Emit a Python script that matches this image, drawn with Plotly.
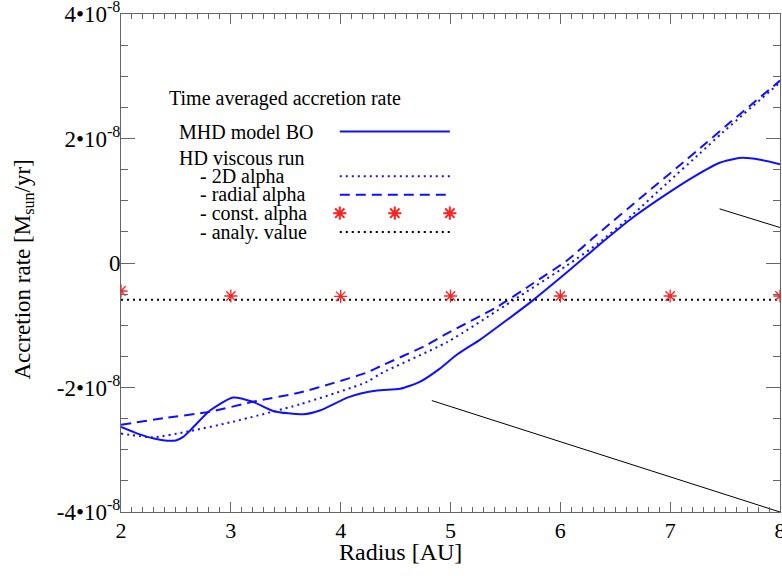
import plotly.graph_objects as go

SCALE = 1e-8

# MHD model BO (solid)
mhd_x = [2.0, 2.15, 2.3, 2.42, 2.5, 2.57, 2.63, 2.81, 3.02, 3.2, 3.39, 3.66, 3.81, 4.08, 4.33, 4.54,
         4.72, 4.9, 5.06, 5.27, 5.51, 5.75, 6.06, 6.36, 6.66, 6.97, 7.21, 7.45, 7.65, 7.82, 8.0]
mhd_y = [-2.635, -2.74, -2.82, -2.855, -2.85, -2.79, -2.69, -2.37, -2.16, -2.23, -2.38, -2.43, -2.37, -2.15,
         -2.05, -2.02, -1.91, -1.70, -1.47, -1.23, -0.92, -0.60, -0.15, 0.30, 0.73, 1.11,
         1.38, 1.61, 1.69, 1.66, 1.585]

# HD viscous run - 2D alpha (dotted)
alpha2d_x = [2.0, 2.29, 2.6, 3.02, 3.63, 4.24, 4.36, 4.97, 5.57, 6.06, 6.34, 6.66, 6.97,
             7.27, 7.48, 8.0]
alpha2d_y = [-2.74, -2.8, -2.71, -2.55, -2.27, -1.91, -1.78, -1.27, -0.6, -0.04, 0.31, 0.78,
             1.28, 1.76, 2.1, 2.9]

# HD viscous run - radial alpha (dashed)
radial_x = [2.0, 2.4, 2.81, 3.2, 3.63, 3.93, 4.24, 4.36, 4.78, 4.97, 5.42, 5.75, 6.06,
            6.33, 6.76, 7.06, 7.33, 7.52, 8.0]
radial_y = [-2.6, -2.49, -2.39, -2.23, -2.08, -1.93, -1.76, -1.66, -1.32, -1.13, -0.71,
            -0.33, 0.04, 0.45, 1.09, 1.53, 1.93, 2.22, 2.93]

# HD viscous run - const. alpha (red asterisks)
const_x = [2, 3, 4, 5, 6, 7, 8]
const_y = [-0.45, -0.53, -0.535, -0.53, -0.53, -0.53, -0.53]

# analytic value (black dotted)
analy_x = [2.0, 8.0]
analy_y = [-0.59, -0.59]

# thin black reference lines
ref1_x = [4.83, 8.0]
ref1_y = [-2.21, -4.0]
ref2_x = [7.45, 8.0]
ref2_y = [0.87, 0.57]

ytick_vals = [-4, -2, 0, 2, 4]
ytick_text = ["-4•10<sup>-8</sup>", "-2•10<sup>-8</sup>", "0", "2•10<sup>-8</sup>", "4•10<sup>-8</sup>"]

legend_labels = ["MHD model BO", "HD viscous run", "- 2D alpha", "- radial alpha",
                 "- const. alpha", "- analy. value"]

FONT = "Times New Roman, Liberation Serif, serif"
BLUE = "#1010ff"
RED = "#ff2020"
AXC = "#666666"

fig = go.Figure()

def s(v):
    return [a * SCALE for a in v]

fig.add_trace(go.Scatter(x=mhd_x, y=s(mhd_y), mode="lines", line=dict(color=BLUE, width=2, shape="spline", smoothing=0.6)))
fig.add_trace(go.Scatter(x=alpha2d_x, y=s(alpha2d_y), mode="lines", line=dict(color=BLUE, width=2, dash="2px,4px", shape="spline", smoothing=0.6)))
fig.add_trace(go.Scatter(x=radial_x, y=s(radial_y), mode="lines", line=dict(color=BLUE, width=2, dash="10px,6px", shape="spline", smoothing=0.6)))
fig.add_trace(go.Scatter(x=analy_x, y=s(analy_y), mode="lines", line=dict(color="black", width=2, dash="2px,4px")))
fig.add_trace(go.Scatter(x=const_x, y=s(const_y), mode="markers",
                         marker=dict(symbol="asterisk-open", size=11, color=RED, line=dict(color=RED, width=1.3))))
fig.add_trace(go.Scatter(x=ref1_x, y=s(ref1_y), mode="lines", line=dict(color="black", width=1)))
fig.add_trace(go.Scatter(x=ref2_x, y=s(ref2_y), mode="lines", line=dict(color="black", width=1)))

# legend samples on an overlay (paper-like) axis
LX0, LX1 = 0.332, 0.499
row_y = [0.764, 0.711, 0.674, 0.637, 0.600, 0.562]
fig.add_trace(go.Scatter(x=[LX0, LX1], y=[row_y[0]] * 2, xaxis="x2", yaxis="y2", mode="lines",
                         line=dict(color=BLUE, width=2)))
fig.add_trace(go.Scatter(x=[LX0, LX1], y=[row_y[2]] * 2, xaxis="x2", yaxis="y2", mode="lines",
                         line=dict(color=BLUE, width=2, dash="2px,4px")))
fig.add_trace(go.Scatter(x=[LX0, LX1], y=[row_y[3]] * 2, xaxis="x2", yaxis="y2", mode="lines",
                         line=dict(color=BLUE, width=2, dash="10px,6px")))
fig.add_trace(go.Scatter(x=[LX0, (LX0 + LX1) / 2, LX1], y=[row_y[4]] * 3, xaxis="x2", yaxis="y2",
                         mode="markers", cliponaxis=False,
                         marker=dict(symbol="asterisk-open", size=11, color=RED, line=dict(color=RED, width=2))))
fig.add_trace(go.Scatter(x=[LX0, LX1], y=[row_y[5]] * 2, xaxis="x2", yaxis="y2", mode="lines",
                         line=dict(color="black", width=2, dash="2px,4px")))

annotations = [
    dict(text="Time averaged accretion rate", x=0.0698, y=0.831, xref="paper", yref="paper",
         xanchor="left", yanchor="middle", showarrow=False, font=dict(family=FONT, size=20, color="black")),
]
text_x = [0.0845, 0.0845, 0.117, 0.117, 0.117, 0.117]
for lbl, tx, ty in zip(legend_labels, text_x, row_y):
    annotations.append(dict(text=lbl, x=tx, y=ty, xref="paper", yref="paper",
                            xanchor="left", yanchor="middle", showarrow=False,
                            font=dict(family=FONT, size=20, color="black")))
annotations.append(dict(text="Radius [AU]", x=0.4234, y=-0.081, xref="paper", yref="paper",
                        xanchor="center", yanchor="middle", showarrow=False,
                        font=dict(family=FONT, size=24, color="black")))
annotations.append(dict(text="Accretion rate [M<sub>sun</sub>/yr]", x=-0.147, y=0.487, xref="paper", yref="paper",
                        xanchor="center", yanchor="middle", textangle=-90, showarrow=False,
                        font=dict(family=FONT, size=23, color="black")))

fig.update_layout(
    width=782, height=576,
    margin=dict(l=121, r=2, t=14, b=64),
    paper_bgcolor="white", plot_bgcolor="white",
    showlegend=False,
    font=dict(family=FONT, size=22, color="black"),
    annotations=annotations,
    xaxis=dict(range=[2, 8], tickmode="linear", tick0=2, dtick=1, ticks="inside", ticklen=10,
               tickcolor=AXC, showline=True, linecolor=AXC, linewidth=1, mirror="ticks",
               showgrid=False, zeroline=False, automargin=False, ticklabeloverflow="allow",
               ticklabelstandoff=-1, tickfont=dict(family=FONT, size=22),
               minor=dict(tickmode="linear", tick0=2, dtick=0.1, ticks="inside", ticklen=5, tickcolor=AXC, showgrid=False)),
    yaxis=dict(range=[-4 * SCALE, 4 * SCALE], tickmode="array", tickvals=[v * SCALE for v in ytick_vals],
               ticktext=ytick_text, ticks="inside", ticklen=14, tickcolor=AXC, showline=True,
               linecolor=AXC, linewidth=1, mirror="ticks", showgrid=False, zeroline=False, automargin=False,
               ticklabeloverflow="allow", ticklabelstandoff=-5,
               tickfont=dict(family=FONT, size=23),
               minor=dict(tickmode="linear", tick0=0, dtick=0.5 * SCALE, ticks="inside", ticklen=7, tickcolor=AXC, showgrid=False)),
    xaxis2=dict(overlaying="x", range=[0, 1], visible=False, anchor="y2", automargin=False),
    yaxis2=dict(overlaying="y", range=[0, 1], visible=False, anchor="x2", automargin=False),
)

fig.write_html("out.html", config={"displayModeBar": False},
               post_script="document.body.style.margin='0';document.body.style.padding='0';document.body.style.overflow='hidden';")
